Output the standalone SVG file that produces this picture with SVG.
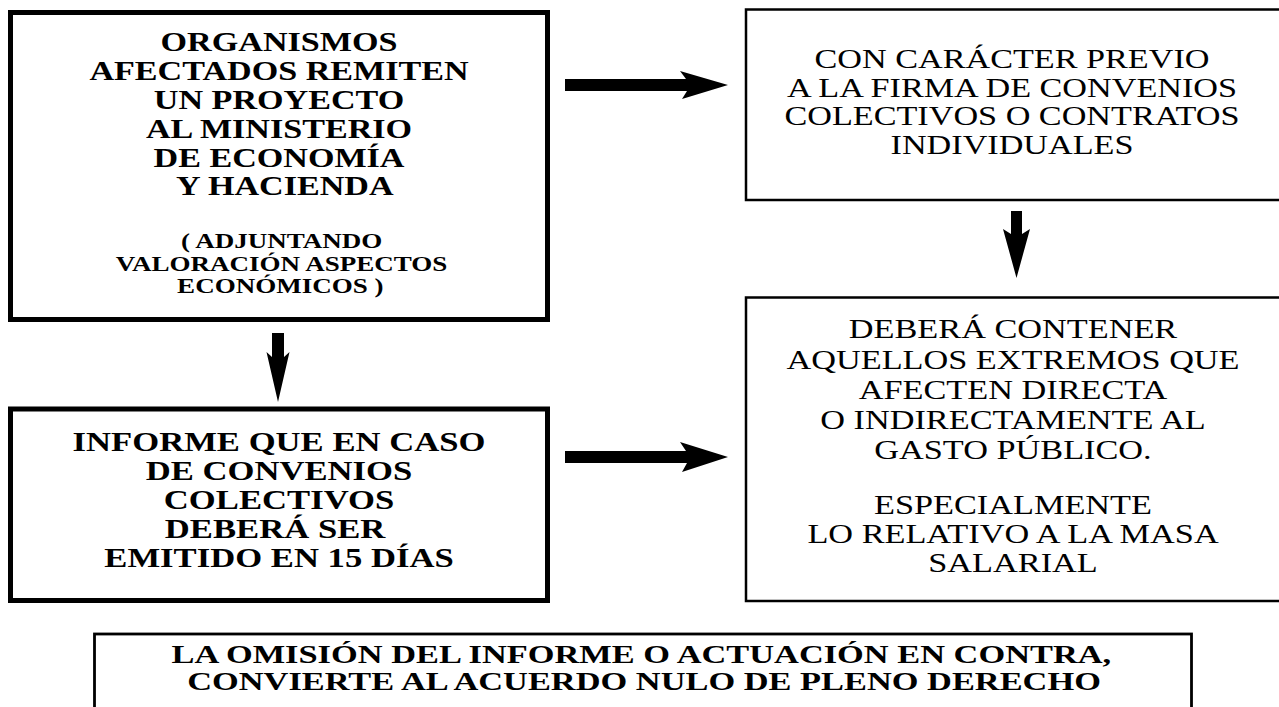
<svg xmlns="http://www.w3.org/2000/svg" width="1279" height="707" viewBox="0 0 1279 707">
<style>
.thick{fill:#fff;stroke:#000;stroke-width:5}
.thin{fill:#fff;stroke:#000;stroke-width:2.5}
.b{font-family:"Liberation Serif","Times New Roman",serif;font-weight:bold;fill:#000;text-anchor:middle}
.r{font-family:"Liberation Serif","Times New Roman",serif;fill:#000;text-anchor:middle}
.arrow{fill:#000;stroke:none}
</style>
<rect width="1279" height="707" fill="#fff"/>
<g id="node-organismos">
<rect class="thick" x="10.5" y="12.5" width="537" height="307"/>
<g transform="translate(279,0) scale(1.287,1)">
<text class="b" font-size="26.5" x="0" y="51.5">ORGANISMOS</text>
<text class="b" font-size="26.5" x="0" y="80.3">AFECTADOS REMITEN</text>
<text class="b" font-size="26.5" x="0" y="109.1">UN PROYECTO</text>
<text class="b" font-size="26.5" x="0" y="137.9">AL MINISTERIO</text>
<text class="b" font-size="26.5" x="0" y="166.7">DE ECONOMÍA</text>
<text class="b" font-size="26.5" x="4.5" y="195.5">Y HACIENDA</text>
<text class="b" font-size="21" x="2" y="248.5">( ADJUNTANDO</text>
<text class="b" font-size="21" x="2" y="271">VALORACIÓN ASPECTOS</text>
<text class="b" font-size="21" x="1" y="293.5">ECONÓMICOS )</text>
</g>
</g>
<g id="node-caracter-previo">
<rect class="thin" x="746" y="9.5" width="600" height="190.5"/>
<g transform="translate(1012,0) scale(1.29,1)">
<text class="r" font-size="26.5" x="0" y="68">CON CARÁCTER PREVIO</text>
<text class="r" font-size="26.5" x="0" y="97">A LA FIRMA DE CONVENIOS</text>
<text class="r" font-size="26.5" x="0" y="125.5">COLECTIVOS O CONTRATOS</text>
<text class="r" font-size="26.5" x="0" y="154">INDIVIDUALES</text>
</g>
</g>
<g id="node-informe">
<rect class="thick" x="10.5" y="409" width="537" height="191.5"/>
<g transform="translate(279,0) scale(1.308,1)">
<text class="b" font-size="26.5" x="0" y="451">INFORME QUE EN CASO</text>
<text class="b" font-size="26.5" x="0" y="479.9">DE CONVENIOS</text>
<text class="b" font-size="26.5" x="0" y="508.8">COLECTIVOS</text>
<text class="b" font-size="26.5" x="-3" y="537.7">DEBERÁ SER</text>
<text class="b" font-size="26.5" x="0" y="566.6">EMITIDO EN 15 DÍAS</text>
</g>
</g>
<g id="node-contener">
<rect class="thin" x="746" y="297.5" width="600" height="303.5"/>
<g transform="translate(1013,0) scale(1.294,1)">
<text class="r" font-size="26.5" x="0" y="338">DEBERÁ CONTENER</text>
<text class="r" font-size="26.5" x="0" y="369">AQUELLOS EXTREMOS QUE</text>
<text class="r" font-size="26.5" x="0" y="399">AFECTEN DIRECTA</text>
<text class="r" font-size="26.5" x="0" y="429">O INDIRECTAMENTE AL</text>
<text class="r" font-size="26.5" x="0" y="459">GASTO PÚBLICO.</text>
<text class="r" font-size="26.5" x="0" y="514">ESPECIALMENTE</text>
<text class="r" font-size="26.5" x="0" y="543">LO RELATIVO A LA MASA</text>
<text class="r" font-size="26.5" x="0" y="572">SALARIAL</text>
</g>
</g>
<g id="node-omision">
<rect class="thin" x="94.5" y="634" width="1097" height="100" style="stroke-width:2.8"/>
<g transform="translate(642,0) scale(1.376,1)">
<text class="b" font-size="25" x="-0.5" y="663">LA OMISIÓN DEL INFORME O ACTUACIÓN EN CONTRA,</text>
<text class="b" font-size="25" x="1.5" y="690.5">CONVIERTE AL ACUERDO NULO DE PLENO DERECHO</text>
</g>
</g>
<g id="connectors">
<polygon class="arrow" points="565,79 686,79 680,71 728,85 682,99 687,91 565,91"/>
<polygon class="arrow" points="565,451 686,451 680,442 728,457 682,472 687,463 565,463"/>
<polygon class="arrow" points="272,333 284,333 284,357 289.5,352 278,402 266.5,352 272,357"/>
<polygon class="arrow" points="1011,211 1022,211 1022,234 1030,229 1016.5,278 1003,229 1011,234"/>
</g>
</svg>
